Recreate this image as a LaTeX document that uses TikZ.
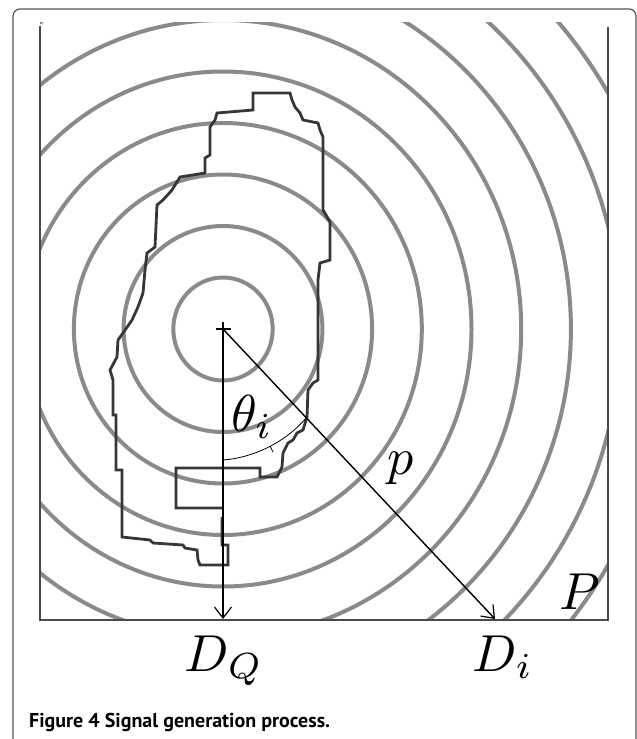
\documentclass[tikz,border=0pt]{standalone}
\usepackage{fontspec}
\newfontfamily\capfont{PT Sans}
\usetikzlibrary{arrows.meta}
\definecolor{ringgray}{HTML}{8A8A8A}
\definecolor{contgray}{HTML}{363636}
\definecolor{framegray}{HTML}{4A4A4A}
\definecolor{boxgray}{HTML}{555555}
\begin{document}
\begin{tikzpicture}[x=1pt,y=-1pt,
  ring/.style={draw=ringgray, line width=4pt},
  contour/.style={draw=contgray, line width=2.8pt, line join=miter},
  frameline/.style={draw=framegray, line width=2pt},
  vec/.style={draw=black, line width=1.4pt, -{Straight Barb[length=11pt,width=17pt,line width=1.2pt]}},
  lbl/.style={inner sep=0pt, scale=5.2},
  anglemark/.style={draw=black, line width=0.8pt}
]
\useasboundingbox (0,0) rectangle (637,739);
% outer caption box
\draw[boxgray, line width=1.2pt, rounded corners=7pt] (13,760) -- (13,9) -- (636,9) -- (636,760);
% rings
\begin{scope}
  \clip (40,22) rectangle (608,620);
  \foreach \k in {1,...,10}{
    \draw[ring] (223,329) ellipse [x radius={49.7*\k}, y radius={51.5*\k}];
  }
\end{scope}
% contour
\draw[contour] (222,508) -- (176,508) -- (176,468) -- (260,468) -- (260,477) -- (277,477)
  -- (282,467) -- (283,453) -- (288,443) -- (293,440) -- (297,433) -- (303,430) -- (307,417)
  -- (308,390) -- (313,383) -- (318,380) -- (318,280) -- (320,263) -- (330,260) -- (330,222)
  -- (326,215) -- (323,210) -- (323,137) -- (320,130) -- (318,123) -- (303,120) -- (300,113)
  -- (295,107) -- (292,100) -- (290,93) -- (253,93) -- (253,110) -- (217,113) -- (215,120)
  -- (210,127) -- (210,155) -- (205,158) -- (205,173) -- (180,177) -- (172,190) -- (163,200)
  -- (157,205) -- (155,247) -- (147,253) -- (145,270) -- (143,293) -- (138,307) -- (132,320)
  -- (123,333) -- (118,340) -- (117,357) -- (110,370) -- (113,380) -- (113,415) -- (116,415)
  -- (116,470) -- (122,470) -- (122,537) -- (150,540) -- (153,543) -- (183,545) -- (185,548)
  -- (197,550) -- (198,560) -- (200,565) -- (228,565) -- (228,545) -- (222,545) -- (222,517);
% inner frame
\draw[frameline] (40,26) -- (40,620) -- (608,620) -- (608,27);
% center mark and vectors
\coordinate (O) at (223,329);
\coordinate (DQ) at (223,619);
\coordinate (Di) at (495,619);
\draw[black, line width=1.2pt] (216,329) -- (231,329) (223,322) -- (223,336);
\draw[vec] (O) -- (DQ);
\draw[vec] (O) -- (Di);
% angle arc
\draw[anglemark] (223,460) .. controls (252,458) and (285,443) .. (306,418);
\draw[anglemark] (270,446) -- (273,452);
% labels
\node[lbl, anchor=base west] (theta) at (230,431) {$\theta_i$};
\node[lbl, anchor=base west] (plbl) at (386,474) {$p$};
\node[lbl, anchor=base west] (Plbl) at (558,609) {$P$};
\node[lbl, anchor=base] (dqlbl) at (224,671) {$D_Q$};
\node[lbl, anchor=base] (dilbl) at (503,671) {$D_i$};
\node[anchor=base west, inner sep=0pt] (cap) at (29,727) {\capfont\fontsize{20}{20}\selectfont\bfseries Figure 4 Signal generation process.};
\end{tikzpicture}
\end{document}
